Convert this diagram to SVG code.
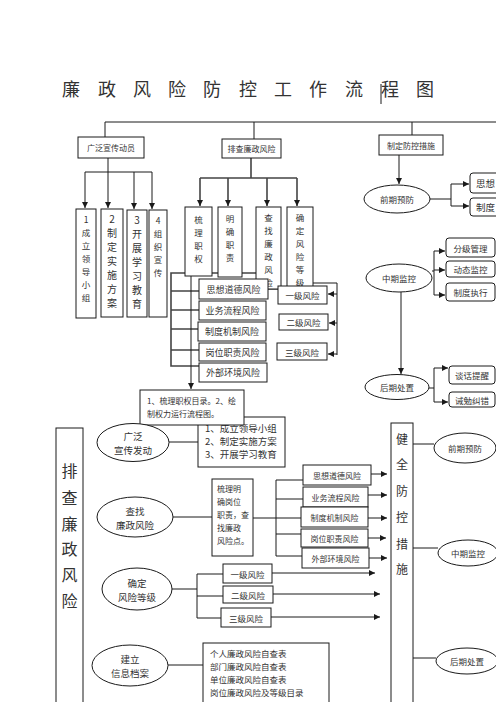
<svg xmlns="http://www.w3.org/2000/svg" width="496" height="702" viewBox="0 0 496 702">
<style>
.b{fill:#fff;stroke:#1a1a1a;stroke-width:1}
.l{fill:none;stroke:#1a1a1a;stroke-width:1}
.g{fill:none;stroke:#444;stroke-width:1.6}
.t{font-family:"Noto Sans CJK SC","Noto Sans",sans-serif;fill:#333;text-anchor:middle;dominant-baseline:central}
.s{text-anchor:start}
</style>
<defs>
<marker id="a" viewBox="0 0 8 8" refX="8" refY="4" markerWidth="6" markerHeight="6" markerUnits="userSpaceOnUse" orient="auto"><path d="M0,0 L8,4 L0,8 z" fill="#1a1a1a"/></marker>
</defs>
<rect width="496" height="702" fill="#fff"/>
<g id="title">
<text class="t" y="88" font-size="18" fill="#222"><tspan x="71">廉</tspan><tspan x="107">政</tspan><tspan x="142">风</tspan><tspan x="177">险</tspan><tspan x="212">防</tspan><tspan x="248">控</tspan><tspan x="283">工</tspan><tspan x="318">作</tspan><tspan x="354">流</tspan><tspan x="390">程</tspan><tspan x="425">图</tspan></text>
<line class="l" x1="381" y1="84" x2="381" y2="104"/>
</g>
<g id="connectors">
<path class="l" d="M105,137 V122 H496 M254,122 V139 M412,122 V135"/>
<path class="l" d="M108,158 V172 M85,172 H152"/>
<path class="l" marker-end="url(#a)" d="M85,172 V208"/>
<path class="l" marker-end="url(#a)" d="M108,172 V208"/>
<path class="l" marker-end="url(#a)" d="M134,172 V209"/>
<path class="l" marker-end="url(#a)" d="M152,172 V209"/>
<path class="g" d="M251,158 V178 M200,178 H297"/>
<path class="g" marker-end="url(#a)" d="M200,178 V206"/>
<path class="g" marker-end="url(#a)" d="M228,178 V206"/>
<path class="g" marker-end="url(#a)" d="M267,178 V206"/>
<path class="g" marker-end="url(#a)" d="M297,178 V206"/>
<path class="g" d="M256,273 H171 V366 H199 M171,291 H199 M171,310 H199 M171,329 H198 M171,350 H199"/>
<path class="l" marker-end="url(#a)" d="M191,252 V389"/>
<path class="l" d="M268,289 H278"/>
<path class="l" d="M308,283 H337 V355"/>
<path class="l" marker-end="url(#a)" d="M337,294 H328"/>
<path class="l" marker-end="url(#a)" d="M337,323 H329"/>
<path class="l" marker-end="url(#a)" d="M337,354 H328"/>
<path class="l" marker-end="url(#a)" d="M399,155 V184"/>
<path class="l" d="M430,199 H451 M451,184 V206"/>
<path class="l" marker-end="url(#a)" d="M451,184 H469"/>
<path class="l" marker-end="url(#a)" d="M451,206 H469"/>
<path class="l" d="M432,271 H434 M434,251 V295"/>
<path class="l" marker-end="url(#a)" d="M434,251 H445"/>
<path class="l" marker-end="url(#a)" d="M434,270 H445"/>
<path class="l" marker-end="url(#a)" d="M434,295 H445"/>
<path class="l" marker-end="url(#a)" d="M401,292 V374"/>
<path class="l" d="M429,388 H434 M434,368 V402"/>
<path class="l" marker-end="url(#a)" d="M434,368 H448"/>
<path class="l" marker-end="url(#a)" d="M434,402 H448"/>
<path class="l" d="M169,442 H198 M173,517 H212 M172,589 H197 M168,665 H203"/>
<path class="l" d="M253,518 H276 M276,480 V556 M276,480 H303 M276,499 H303 M276,518 H301 M276,534 H301 M276,556 H302"/>
<path class="l" d="M197,574 V618 M197,574 H223 M197,596 H223 M197,618 H221"/>
<path class="l" marker-end="url(#a)" d="M371,474 H387"/>
<path class="l" marker-end="url(#a)" d="M368,495 H387"/>
<path class="l" marker-end="url(#a)" d="M368,518 H387"/>
<path class="l" marker-end="url(#a)" d="M368,538 H386"/>
<path class="l" marker-end="url(#a)" d="M369,558 H387"/>
<path class="l" marker-end="url(#a)" d="M272,573 H375"/>
<path class="l" marker-end="url(#a)" d="M273,594 H380"/>
<path class="l" marker-end="url(#a)" d="M271,617 H380"/>
<path class="l" d="M413,444 H434 M413,548 H438 M413,658 H436"/>
</g>
<g id="n-xuanchuan"><rect class="b" x="78" y="137" width="66" height="21"/><text class="t" x="111" y="147.5" font-size="8">广泛宣传动员</text></g>
<g id="n-paicha"><rect class="b" x="222" y="139" width="59" height="19"/><text class="t" x="251.5" y="148.5" font-size="8">排查廉政风险</text></g>
<g id="n-zhiding"><rect class="b" x="379" y="135" width="64" height="20"/><text class="t" x="411" y="145" font-size="8">制定防控措施</text></g>
<g id="n-c1"><rect class="b" x="76" y="209" width="20" height="109"/><text class="t" font-size="8.5"><tspan x="86" y="219">1</tspan><tspan x="86" y="232">成</tspan><tspan x="86" y="245">立</tspan><tspan x="86" y="258">领</tspan><tspan x="86" y="271">导</tspan><tspan x="86" y="284">小</tspan><tspan x="86" y="297">组</tspan></text></g>
<g id="n-c2"><rect class="b" x="101" y="209" width="22" height="108"/><text class="t" font-size="10"><tspan x="112" y="218">2</tspan><tspan x="112" y="232">制</tspan><tspan x="112" y="246">定</tspan><tspan x="112" y="260">实</tspan><tspan x="112" y="274">施</tspan><tspan x="112" y="288">方</tspan><tspan x="112" y="302">案</tspan></text></g>
<g id="n-c3"><rect class="b" x="127" y="210" width="20" height="107"/><text class="t" font-size="10"><tspan x="137" y="219">3</tspan><tspan x="137" y="233">开</tspan><tspan x="137" y="247">展</tspan><tspan x="137" y="261">学</tspan><tspan x="137" y="275">习</tspan><tspan x="137" y="289">教</tspan><tspan x="137" y="303">育</tspan></text></g>
<g id="n-c4"><rect class="b" x="149" y="210" width="18" height="107"/><text class="t" font-size="8.5"><tspan x="158" y="220">4</tspan><tspan x="158" y="233">组</tspan><tspan x="158" y="246">织</tspan><tspan x="158" y="259">宣</tspan><tspan x="158" y="272">传</tspan></text></g>
<g id="n-shuli"><rect class="b" x="185" y="207" width="27" height="69"/><text class="t" font-size="8.5"><tspan x="198.5" y="219">梳</tspan><tspan x="198.5" y="232">理</tspan><tspan x="198.5" y="245">职</tspan><tspan x="198.5" y="258">权</tspan></text></g>
<g id="n-mingque"><rect class="b" x="218" y="207" width="24" height="70"/><text class="t" font-size="8.5"><tspan x="230" y="218">明</tspan><tspan x="230" y="231">确</tspan><tspan x="230" y="244">职</tspan><tspan x="230" y="257">责</tspan></text></g>
<g id="n-chazhao"><rect class="b" x="256" y="207" width="25" height="82"/><text class="t" font-size="8.5"><tspan x="268.5" y="217">查</tspan><tspan x="268.5" y="230">找</tspan><tspan x="268.5" y="243">廉</tspan><tspan x="268.5" y="256">政</tspan><tspan x="268.5" y="269">风</tspan><tspan x="268.5" y="282">险</tspan></text></g>
<g id="n-queding"><rect class="b" x="287" y="207" width="26" height="82"/><text class="t" font-size="8.5"><tspan x="300" y="217">确</tspan><tspan x="300" y="230">定</tspan><tspan x="300" y="243">风</tspan><tspan x="300" y="256">险</tspan><tspan x="300" y="269">等</tspan><tspan x="300" y="282">级</tspan></text></g>
<g id="n-r1"><rect class="b" x="199" y="279" width="69" height="20"/><text class="t" x="233.5" y="289" font-size="9">思想道德风险</text></g>
<g id="n-r2"><rect class="b" x="199" y="301" width="67" height="19"/><text class="t" x="232.5" y="310.5" font-size="9">业务流程风险</text></g>
<g id="n-r3"><rect class="b" x="198" y="322" width="68" height="19"/><text class="t" x="232" y="331.5" font-size="9">制度机制风险</text></g>
<g id="n-r4"><rect class="b" x="199" y="343" width="67" height="18"/><text class="t" x="232.5" y="352" font-size="9">岗位职责风险</text></g>
<g id="n-r5"><rect class="b" x="199" y="363" width="68" height="19"/><text class="t" x="233" y="372.5" font-size="9">外部环境风险</text></g>
<g id="n-l1"><rect class="b" x="278" y="286" width="49" height="18"/><text class="t" x="302.5" y="295" font-size="8.5">一级风险</text></g>
<g id="n-l2"><rect class="b" x="279" y="314" width="49" height="16"/><text class="t" x="303.5" y="322" font-size="8.5">二级风险</text></g>
<g id="n-l3"><rect class="b" x="277" y="343" width="50" height="17"/><text class="t" x="302" y="351.5" font-size="8.5">三级风险</text></g>
<g id="n-qianqi"><ellipse class="b" cx="397" cy="199" rx="33" ry="14"/><text class="t" x="397" y="199" font-size="8.5">前期预防</text></g>
<g id="n-q1"><rect class="b" x="470" y="173" width="40" height="20" rx="3"/><text class="t s" x="476" y="183" font-size="9.5">思想</text></g>
<g id="n-q2"><rect class="b" x="470" y="198" width="40" height="18" rx="3"/><text class="t s" x="476" y="207" font-size="9.5">制度</text></g>
<g id="n-zhongqi"><ellipse class="b" cx="399" cy="278" rx="33" ry="14"/><text class="t" x="399" y="278" font-size="8.5">中期监控</text></g>
<g id="n-q3"><rect class="b" x="446" y="238" width="49" height="19" rx="3"/><text class="t" x="470.5" y="247.5" font-size="8.5">分级管理</text></g>
<g id="n-q4"><rect class="b" x="446" y="261" width="49" height="16" rx="3"/><text class="t" x="470.5" y="269" font-size="8.5">动态监控</text></g>
<g id="n-q5"><rect class="b" x="446" y="283" width="49" height="18" rx="3"/><text class="t" x="470.5" y="292" font-size="8.5">制度执行</text></g>
<g id="n-houqi"><ellipse class="b" cx="397" cy="387" rx="32" ry="12.5"/><text class="t" x="397" y="387" font-size="8.5">后期处置</text></g>
<g id="n-q6"><rect class="b" x="449" y="366" width="46" height="18" rx="3"/><text class="t" x="472" y="375" font-size="8.5">谈话提醒</text></g>
<g id="n-q7"><rect class="b" x="449" y="392" width="46" height="15" rx="3"/><text class="t" x="472" y="399.5" font-size="8.5">诫勉纠错</text></g>
<g id="n-list123"><rect class="b" x="198" y="417" width="87" height="50"/><text class="t s" font-size="9.5"><tspan x="205" y="428">1、成立领导小组</tspan><tspan x="205" y="441">2、制定实施方案</tspan><tspan x="205" y="454">3、开展学习教育</tspan></text></g>
<g id="n-mulu"><rect class="b" x="140" y="390" width="104" height="35"/><text class="t s" font-size="8"><tspan x="147" y="400">1、梳理职权目录。2、绘</tspan><tspan x="147" y="413">制权力运行流程图。</tspan></text></g>
<g id="n-left"><rect class="b" x="56" y="428" width="27" height="290"/><text class="t" font-size="16"><tspan x="69.5" y="470">排</tspan><tspan x="69.5" y="497">查</tspan><tspan x="69.5" y="523">廉</tspan><tspan x="69.5" y="548">政</tspan><tspan x="69.5" y="574">风</tspan><tspan x="69.5" y="600">险</tspan></text></g>
<g id="n-e1"><ellipse class="b" cx="133" cy="442.5" rx="36" ry="19"/><text class="t" font-size="9.5"><tspan x="133" y="435.5">广泛</tspan><tspan x="133" y="449.5">宣传发动</tspan></text></g>
<g id="n-e2"><ellipse class="b" cx="135" cy="517" rx="38" ry="20"/><text class="t" font-size="9.5"><tspan x="135" y="510.5">查找</tspan><tspan x="135" y="524.5">廉政风险</tspan></text></g>
<g id="n-e3"><ellipse class="b" cx="137" cy="589" rx="35" ry="21"/><text class="t" font-size="9.5"><tspan x="137" y="582.5">确定</tspan><tspan x="137" y="596.5">风险等级</tspan></text></g>
<g id="n-e4"><ellipse class="b" cx="130" cy="665.5" rx="38" ry="20.5"/><text class="t" font-size="9.5"><tspan x="130" y="658.5">建立</tspan><tspan x="130" y="672.5">信息档案</tspan></text></g>
<g id="n-gangwei"><rect class="b" x="212" y="479" width="41" height="77"/><text class="t s" font-size="8"><tspan x="217" y="488">梳理明</tspan><tspan x="217" y="501">确岗位</tspan><tspan x="217" y="514">职责，查</tspan><tspan x="217" y="527">找廉政</tspan><tspan x="217" y="540">风险点。</tspan></text></g>
<g id="n-s1"><rect class="b" x="303" y="465" width="68" height="20"/><text class="t" x="337" y="475" font-size="8">思想道德风险</text></g>
<g id="n-s2"><rect class="b" x="303" y="487" width="65" height="20"/><text class="t" x="335.5" y="497" font-size="8">业务流程风险</text></g>
<g id="n-s3"><rect class="b" x="301" y="507" width="67" height="20"/><text class="t" x="334.5" y="517" font-size="8">制度机制风险</text></g>
<g id="n-s4"><rect class="b" x="301" y="529" width="67" height="18"/><text class="t" x="334.5" y="538" font-size="8">岗位职责风险</text></g>
<g id="n-s5"><rect class="b" x="302" y="548" width="67" height="20"/><text class="t" x="335.5" y="558" font-size="8">外部环境风险</text></g>
<g id="n-k1"><rect class="b" x="223" y="564" width="49" height="19"/><text class="t" x="247.5" y="573.5" font-size="8.5">一级风险</text></g>
<g id="n-k2"><rect class="b" x="223" y="586" width="50" height="17"/><text class="t" x="248" y="594.5" font-size="8.5">二级风险</text></g>
<g id="n-k3"><rect class="b" x="221" y="608" width="50" height="19"/><text class="t" x="246" y="617.5" font-size="8.5">三级风险</text></g>
<g id="n-info"><rect class="b" x="203" y="643" width="126" height="70"/><text class="t s" font-size="8.5"><tspan x="210" y="653">个人廉政风险自查表</tspan><tspan x="210" y="666">部门廉政风险自查表</tspan><tspan x="210" y="679">单位廉政风险自查表</tspan><tspan x="210" y="692">岗位廉政风险及等级目录</tspan></text></g>
<g id="n-right"><rect class="b" x="391" y="423" width="22" height="290"/><text class="t" font-size="12"><tspan x="402" y="438">健</tspan><tspan x="402" y="463">全</tspan><tspan x="402" y="490">防</tspan><tspan x="402" y="516">控</tspan><tspan x="402" y="543">措</tspan><tspan x="402" y="568">施</tspan></text></g>
<g id="n-f1"><ellipse class="b" cx="465" cy="448" rx="31" ry="15"/><text class="t" x="465" y="448" font-size="8.5">前期预防</text></g>
<g id="n-f2"><ellipse class="b" cx="468" cy="553" rx="30" ry="13"/><text class="t" x="468" y="553" font-size="8.5">中期监控</text></g>
<g id="n-f3"><ellipse class="b" cx="467" cy="661" rx="31" ry="13"/><text class="t" x="467" y="661" font-size="8.5">后期处置</text></g>
</svg>
